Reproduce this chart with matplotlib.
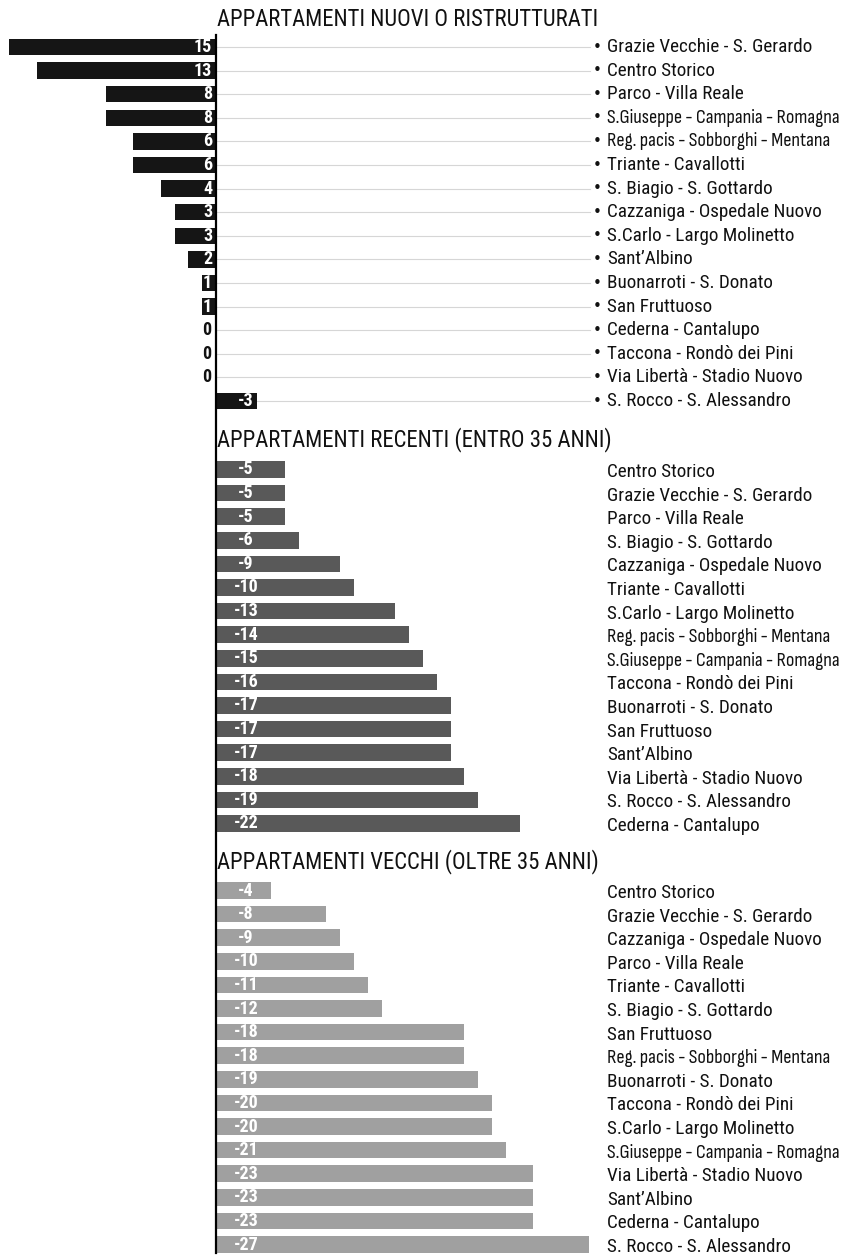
import matplotlib
matplotlib.use("Agg")
import matplotlib.pyplot as plt

plt.rcParams['font.family'] = ['Roboto Condensed', 'DejaVu Sans']

# --- data -------------------------------------------------------------
titles = [
    "APPARTAMENTI NUOVI O RISTRUTTURATI",
    "APPARTAMENTI RECENTI (ENTRO 35 ANNI)",
    "APPARTAMENTI VECCHI (OLTRE 35 ANNI)",
]

nuovi_zone = [
    "Grazie Vecchie - S. Gerardo", "Centro Storico", "Parco - Villa Reale",
    "S.Giuseppe - Campania - Romagna", "Reg. pacis - Sobborghi - Mentana",
    "Triante - Cavallotti", "S. Biagio - S. Gottardo", "Cazzaniga - Ospedale Nuovo",
    "S.Carlo - Largo Molinetto", "Sant\u2019Albino", "Buonarroti - S. Donato",
    "San Fruttuoso", "Cederna - Cantalupo", "Taccona - Rondò dei Pini",
    "Via Libertà - Stadio Nuovo", "S. Rocco - S. Alessandro",
]
nuovi_val = [15, 13, 8, 8, 6, 6, 4, 3, 3, 2, 1, 1, 0, 0, 0, -3]

recenti_zone = [
    "Centro Storico", "Grazie Vecchie - S. Gerardo", "Parco - Villa Reale",
    "S. Biagio - S. Gottardo", "Cazzaniga - Ospedale Nuovo", "Triante - Cavallotti",
    "S.Carlo - Largo Molinetto", "Reg. pacis - Sobborghi - Mentana",
    "S.Giuseppe - Campania - Romagna", "Taccona - Rondò dei Pini",
    "Buonarroti - S. Donato", "San Fruttuoso", "Sant\u2019Albino",
    "Via Libertà - Stadio Nuovo", "S. Rocco - S. Alessandro", "Cederna - Cantalupo",
]
recenti_val = [-5, -5, -5, -6, -9, -10, -13, -14, -15, -16, -17, -17, -17, -18, -19, -22]

vecchi_zone = [
    "Centro Storico", "Grazie Vecchie - S. Gerardo", "Cazzaniga - Ospedale Nuovo",
    "Parco - Villa Reale", "Triante - Cavallotti", "S. Biagio - S. Gottardo",
    "San Fruttuoso", "Reg. pacis - Sobborghi - Mentana", "Buonarroti - S. Donato",
    "Taccona - Rondò dei Pini", "S.Carlo - Largo Molinetto",
    "S.Giuseppe - Campania - Romagna", "Via Libertà - Stadio Nuovo",
    "Sant\u2019Albino", "Cederna - Cantalupo", "S. Rocco - S. Alessandro",
]
vecchi_val = [-4, -8, -9, -10, -11, -12, -18, -18, -19, -20, -20, -21, -23, -23, -23, -27]

# long three-part names are set in a narrower face so they fit the column
tight_names = {"S.Giuseppe - Campania - Romagna", "Reg. pacis - Sobborghi - Mentana"}

# --- layout -----------------------------------------------------------
W, H = 858, 1256
px_per_unit = 13.8
axis_px = 216
row_step = 23.6
bar_h = 16.5
panel_first_row = [47, 469.5, 890.5]
title_y = [19, 440, 862]

fig = plt.figure(figsize=(W / 100, H / 100), dpi=100)
ax = fig.add_axes([0, 0, 1, 1])
ax.set_xlim(-axis_px / px_per_unit, (W - axis_px) / px_per_unit)
ax.set_ylim(H, 0)
ax.axis("off")

def u(px):
    """pixel distance to value units"""
    return px / px_per_unit

label_x = u(607 - axis_px)
bullet_x = u(593 - axis_px)
grid_end = u(590 - axis_px)

panels = [
    (nuovi_zone, nuovi_val, "#151515"),
    (recenti_zone, recenti_val, "#595959"),
    (vecchi_zone, vecchi_val, "#a0a0a0"),
]

num_fs = 13
lab_fs = 13.8
title_fs = 16.4


def zone_label(y, name):
    if name in tight_names:
        ax.text(label_x, y, name, fontsize=14.6, ha="left", va="center",
                color="#111111",
                family=["Sofia Sans Condensed", "Roboto Condensed", "DejaVu Sans"])
    else:
        ax.text(label_x, y, name, fontsize=lab_fs, ha="left", va="center",
                color="#111111")


for p, (zones, vals, color) in enumerate(panels):
    y0 = panel_first_row[p]
    ys = [y0 + i * row_step for i in range(len(vals))]
    # bars are drawn as -value: increases to the left, decreases to the right
    xs = [-v for v in vals]
    ax.barh(ys, xs, height=bar_h, color=color, zorder=3)

    ax.text(u(1), title_y[p], titles[p], fontsize=title_fs, ha="left",
            va="center", color="#111111")

    for y, v, z in zip(ys, vals, zones):
        if p == 0:
            ax.plot([0, grid_end], [y, y], color="#d6d6d6", lw=0.8, zorder=1)
            ax.text(bullet_x, y, "\u2022", fontsize=11, ha="left", va="center",
                    color="#111111", family=["DejaVu Sans"])
            zone_label(y, z)
            if v > 0:
                ax.text(-u(4), y, str(v), fontsize=num_fs, fontweight="bold",
                        ha="right", va="center", color="white", zorder=4)
            elif v == 0:
                ax.text(-u(5), y, str(v), fontsize=num_fs, fontweight="bold",
                        ha="right", va="center", color="#111111", zorder=4)
            else:
                ax.text(-v - u(4), y, str(v), fontsize=num_fs,
                        fontweight="bold", ha="right", va="center",
                        color="white", zorder=4)
        else:
            zone_label(y + 2.5, z)
            ax.text(u(30), y, str(v), fontsize=num_fs, fontweight="bold",
                    ha="center", va="center", color="white", zorder=4)

# vertical baseline shared by all three panels
ax.plot([0, 0], [35, 1253], color="black", lw=1.6, zorder=5)

fig.savefig("out.png", dpi=100)
